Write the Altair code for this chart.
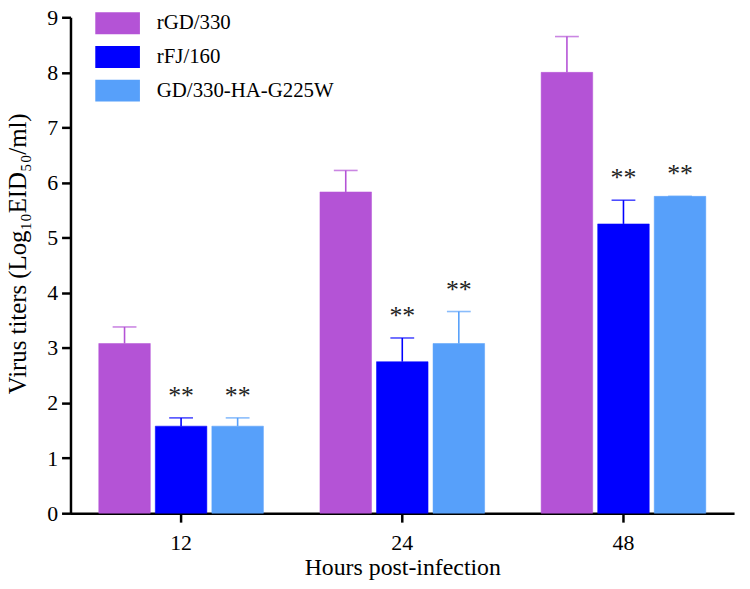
import altair as alt
import pandas as pd

hours = ["12", "24", "48"]
strains = ["rGD/330", "rFJ/160", "GD/330-HA-G225W"]
mean_rgd = [3.08, 5.83, 8.00]
mean_rfj = [1.58, 2.75, 5.25]
mean_ha = [1.58, 3.08, 5.75]
sd_rgd = [0.30, 0.39, 0.65]
sd_rfj = [0.15, 0.43, 0.43]
sd_ha = [0.15, 0.58, 0.00]
sig_rgd = ["", "", ""]
sig_rfj = ["**", "**", "**"]
sig_ha = ["**", "**", "**"]
colors = ["#B453D6", "#0000FF", "#57A0FA"]

rows = []
for strain, means, sds, sigs in zip(strains, [mean_rgd, mean_rfj, mean_ha],
                                    [sd_rgd, sd_rfj, sd_ha], [sig_rgd, sig_rfj, sig_ha]):
    for h, m, s, g in zip(hours, means, sds, sigs):
        rows.append({"hour": h, "strain": strain, "mean": m, "upper": m + s, "sig": g})
df = pd.DataFrame(rows)

FONT = "Liberation Serif"

x = alt.X("hour:N", sort=hours,
          scale=alt.Scale(paddingInner=0, paddingOuter=0),
          axis=alt.Axis(title="Hours post-infection", labelAngle=0, labelPadding=11,
                        titlePadding=2, titleFontSize=24))
xoff = alt.XOffset("strain:N", sort=strains,
                   scale=alt.Scale(paddingInner=0.088, paddingOuter=0.5))
color = alt.Color("strain:N", sort=strains,
                  scale=alt.Scale(domain=strains, range=colors),
                  legend=alt.Legend(title=None, orient="none", legendX=25, legendY=-16.5,
                                    symbolType="M-1,-0.49H1V0.49H-1Z", symbolSize=2025,
                                    symbolStrokeWidth=0, symbolOpacity=1,
                                    rowPadding=-6, labelOffset=17, labelFontSize=21,
                                    labelLimit=400,
                                    labelFont=FONT, labelColor="black", padding=0))

y = alt.Y("mean:Q", scale=alt.Scale(domain=[0, 9], nice=False),
          axis=alt.Axis(title="Virus titers (Log₁₀EID₅₀/ml)", values=list(range(10)),
                        format="d", labelPadding=4, titlePadding=16, titleFontSize=25,
                        titleY=238))

base = alt.Chart(df)

bars = base.mark_bar(strokeWidth=1, strokeOpacity=0.5).encode(
    x=x, xOffset=xoff, y=y, color=color,
    stroke=alt.Color("strain:N", sort=strains,
                     scale=alt.Scale(domain=strains, range=colors), legend=None))

err = base.mark_rule(strokeWidth=1.6).encode(
    x=x, xOffset=xoff, y=alt.Y("mean:Q"), y2="upper:Q", color=color)

cap = base.mark_tick(size=24, thickness=1.6).encode(
    x=x, xOffset=xoff, y=alt.Y("upper:Q"), color=color)

stars = base.mark_text(font=FONT, fontSize=26, dy=-22, baseline="middle", color="#222222").encode(
    x=x, xOffset=xoff, y=alt.Y("upper:Q"), text="sig:N")

chart = alt.layer(bars, err, cap, stars).properties(
    width=669, height=500,
    autosize=alt.AutoSizeParams(type="none"),
    padding={"left": 63, "top": 7, "right": 8, "bottom": 66},
).configure_view(stroke=None).configure_axis(
    grid=False, domainColor="black", domainWidth=2.5, tickColor="black", tickWidth=2.5,
    tickSize=9, labelFont=FONT, labelFontSize=22, labelColor="black",
    titleFont=FONT, titleFontWeight="normal", titleColor="black",
)

chart.save("out.html", embed_options={"renderer": "svg", "actions": False})
